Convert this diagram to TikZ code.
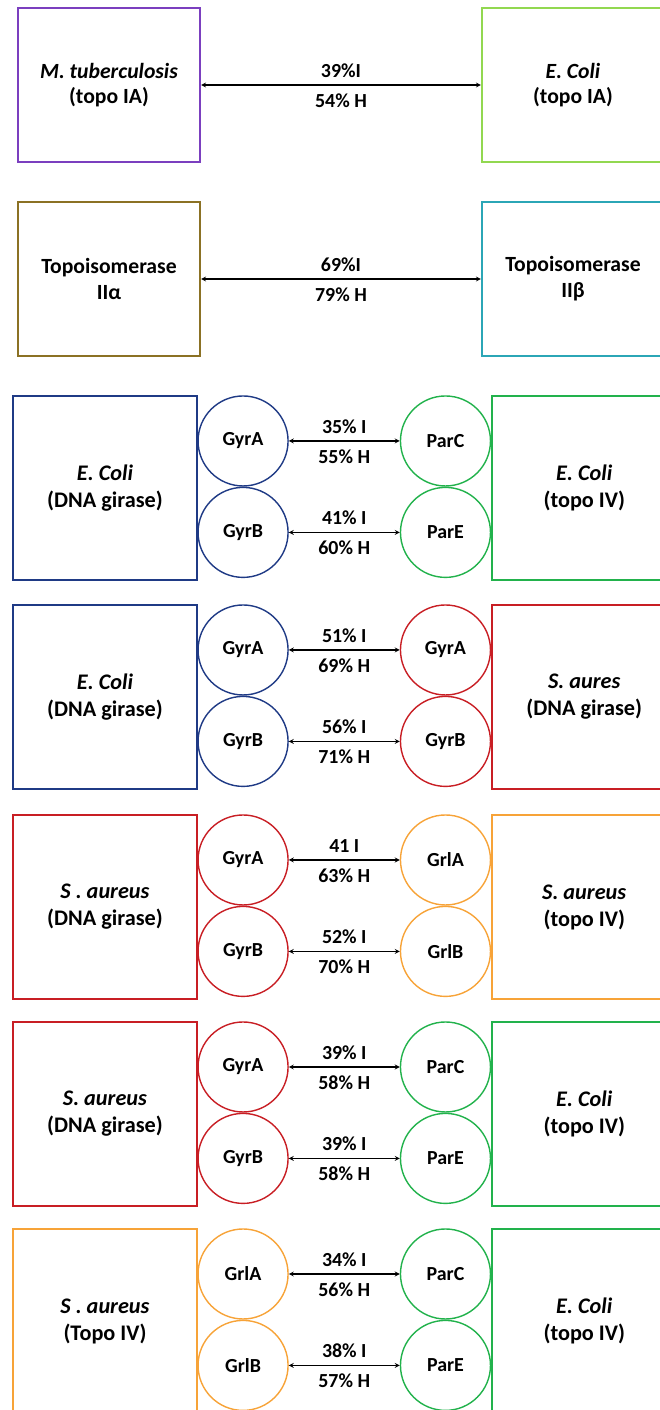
\documentclass[tikz,border=0pt]{standalone}
\usepackage{fontspec}
\setmainfont{Carlito}
\usepackage{tikz}
\usetikzlibrary{arrows, positioning}
\definecolor{topoPurple}{HTML}{7B3FBF}
\definecolor{topoLime}{HTML}{92D850}
\definecolor{topoOlive}{HTML}{8B7124}
\definecolor{topoTeal}{HTML}{2BA6B6}
\definecolor{topoNavy}{HTML}{1F3A85}
\definecolor{topoGreen}{HTML}{22B24C}
\definecolor{topoRed}{HTML}{C81E24}
\definecolor{topoOrange}{HTML}{F7A338}
\tikzstyle{species} = [rectangle, minimum width=5.52cm, minimum height=5.5cm, text centered, align=center, line width=1.8pt, font=\bfseries\fontsize{19}{23}\selectfont]
\tikzstyle{enzyme} = [rectangle, minimum width=5.46cm, minimum height=4.62cm, text centered, align=center, line width=1.8pt, font=\bfseries\fontsize{18.5}{22}\selectfont]
\tikzstyle{subunit} = [circle, minimum size=2.7cm, inner sep=0pt, line width=1.2pt, font=\bfseries\fontsize{17}{20}\selectfont]
\tikzstyle{arrow} = [line width=0.9pt,<->,>=stealth]
\tikzstyle{idtop} = [font=\bfseries\fontsize{17}{20}\selectfont, inner sep=2pt, above=4pt]
\tikzstyle{idbot} = [font=\bfseries\fontsize{17}{20}\selectfont, inner sep=2pt, below=5pt]

\begin{document}
\begin{tikzpicture}[x=0.03cm, y=-0.03cm]
    \useasboundingbox (0,0) rectangle (659,1410);
    % topo IA
    \node (mtbIA) [enzyme, draw=topoPurple] at (109,85) {\textit{M. tuberculosis}\\(topo IA)};
    \node (ecoIA) [enzyme, draw=topoLime] at (573,85) {\textit{E. Coli}\\(topo IA)};
    \draw [arrow] (mtbIA) -- node[idtop] {39\%I} node[idbot] {54\% H} (ecoIA);
    % topo II alpha / beta
    \node (topoIIa) [enzyme, draw=topoOlive] at (109,279) {Topoisomerase\\IIα};
    \node (topoIIb) [enzyme, draw=topoTeal] at (573,279) {Topoisomerase\\IIβ};
    \draw [arrow] (topoIIa) -- node[idtop] {69\%I} node[idbot] {79\% H} (topoIIb);

    % E. coli gyrase vs E. coli topo IV
    \node (ecoG1) [species, draw=topoNavy] at (105,488) {\textit{E. Coli}\\(DNA girase)};
    \node (gyrA1) [subunit, draw=topoNavy, anchor=north, xshift=1.35cm] at (ecoG1.north east) {GyrA};
    \node (gyrB1) [subunit, draw=topoNavy, below=0pt of gyrA1] {GyrB};
    \node (parC1) [subunit, draw=topoGreen, right=3.33cm of gyrA1] {ParC};
    \node (parE1) [subunit, draw=topoGreen, below=0pt of parC1] {ParE};
    \node (ecoT1) [species, draw=topoGreen, anchor=north west] at (parC1.north -| parC1.east) {\textit{E. Coli}\\(topo IV)};
    \draw [arrow] (gyrA1) -- node[idtop] {35\% I} node[idbot] {55\% H} (parC1);
    \draw [arrow] (gyrB1) -- node[idtop] {41\% I} node[idbot] {60\% H} (parE1);

    % E. coli gyrase vs S. aureus gyrase
    \node (ecoG2) [species, draw=topoNavy] at (105,697) {\textit{E. Coli}\\(DNA girase)};
    \node (gyrA2) [subunit, draw=topoNavy, anchor=north, xshift=1.35cm] at (ecoG2.north east) {GyrA};
    \node (gyrB2) [subunit, draw=topoNavy, below=0pt of gyrA2] {GyrB};
    \node (sauA2) [subunit, draw=topoRed, right=3.33cm of gyrA2] {GyrA};
    \node (sauB2) [subunit, draw=topoRed, below=0pt of sauA2] {GyrB};
    \node (sauG2) [species, draw=topoRed, anchor=north west] at (sauA2.north -| sauA2.east) {\textit{S. aures}\\(DNA girase)};
    \draw [arrow] (gyrA2) -- node[idtop] {51\% I} node[idbot] {69\% H} (sauA2);
    \draw [arrow] (gyrB2) -- node[idtop] {56\% I} node[idbot] {71\% H} (sauB2);

    % S. aureus gyrase vs S. aureus topo IV
    \node (sauG3) [species, draw=topoRed] at (105,907) {\textit{S . aureus}\\(DNA girase)};
    \node (gyrA3) [subunit, draw=topoRed, anchor=north, xshift=1.35cm] at (sauG3.north east) {GyrA};
    \node (gyrB3) [subunit, draw=topoRed, below=0pt of gyrA3] {GyrB};
    \node (grlA3) [subunit, draw=topoOrange, right=3.33cm of gyrA3] {GrlA};
    \node (grlB3) [subunit, draw=topoOrange, below=0pt of grlA3] {GrlB};
    \node (sauT3) [species, draw=topoOrange, anchor=north west] at (grlA3.north -| grlA3.east) {\textit{S. aureus}\\(topo IV)};
    \draw [arrow] (gyrA3) -- node[idtop] {41 I} node[idbot] {63\% H} (grlA3);
    \draw [arrow] (gyrB3) -- node[idtop] {52\% I} node[idbot] {70\% H} (grlB3);

    % S. aureus gyrase vs E. coli topo IV
    \node (sauG4) [species, draw=topoRed] at (105,1114) {\textit{S. aureus}\\(DNA girase)};
    \node (gyrA4) [subunit, draw=topoRed, anchor=north, xshift=1.35cm] at (sauG4.north east) {GyrA};
    \node (gyrB4) [subunit, draw=topoRed, below=0pt of gyrA4] {GyrB};
    \node (parC4) [subunit, draw=topoGreen, right=3.33cm of gyrA4] {ParC};
    \node (parE4) [subunit, draw=topoGreen, below=0pt of parC4] {ParE};
    \node (ecoT4) [species, draw=topoGreen, anchor=north west] at (parC4.north -| parC4.east) {\textit{E. Coli}\\(topo IV)};
    \draw [arrow] (gyrA4) -- node[idtop] {39\% I} node[idbot] {58\% H} (parC4);
    \draw [arrow] (gyrB4) -- node[idtop] {39\% I} node[idbot] {58\% H} (parE4);

    % S. aureus topo IV vs E. coli topo IV
    \node (sauT5) [species, draw=topoOrange] at (105,1321) {\textit{S . aureus}\\(Topo IV)};
    \node (grlA5) [subunit, draw=topoOrange, anchor=north, xshift=1.35cm] at (sauT5.north east) {GrlA};
    \node (grlB5) [subunit, draw=topoOrange, below=0pt of grlA5] {GrlB};
    \node (parC5) [subunit, draw=topoGreen, right=3.33cm of grlA5] {ParC};
    \node (parE5) [subunit, draw=topoGreen, below=0pt of parC5] {ParE};
    \node (ecoT5) [species, draw=topoGreen, anchor=north west] at (parC5.north -| parC5.east) {\textit{E. Coli}\\(topo IV)};
    \draw [arrow] (grlA5) -- node[idtop] {34\% I} node[idbot] {56\% H} (parC5);
    \draw [arrow] (grlB5) -- node[idtop] {38\% I} node[idbot] {57\% H} (parE5);
\end{tikzpicture}
\end{document}
